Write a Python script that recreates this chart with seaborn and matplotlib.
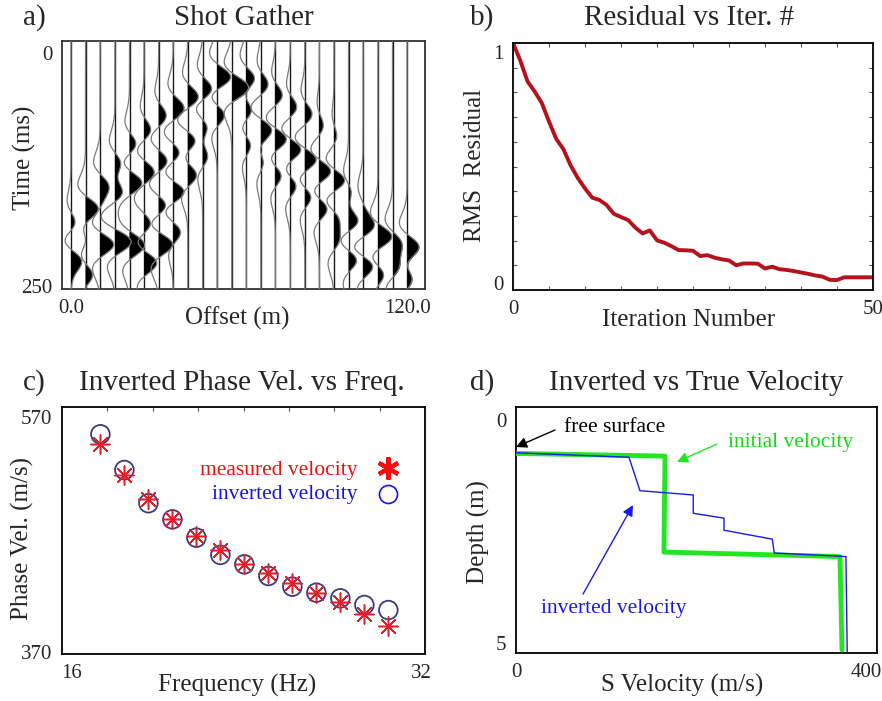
import numpy as np
import pandas as pd
import matplotlib
matplotlib.use("Agg")
import matplotlib.pyplot as plt
import seaborn as sns

sns.set_style("white")
plt.rcParams["font.family"] = ["Liberation Serif", "DejaVu Serif"]

W, H = 882, 701

# ---------------- a) shot gather: arrival picks per event ----------------
trace_offsets = [0.0, 5.2, 10.4, 15.7, 20.9, 26.1, 31.3, 36.5, 41.7, 47.0, 52.2, 57.4,
                 62.6, 67.8, 73.0, 78.3, 83.5, 88.7, 93.9, 99.1, 104.3, 109.6, 114.8, 120.0]

left1_traces = [10, 9, 8, 7, 6, 5, 4, 3, 2, 1, 0]
left1_times = [27, 40, 48, 60, 68, 84, 100, 120, 143, 168, 185]
left1_amps = [1.0, 0.7, 0.7, 0.7, 0.5, 0.5, 0.6, 0.7, 0.8, 1.0, 0.5]

left2_traces = [10, 9, 8, 7, 6, 5, 4, 3, 2, 1, 0]
left2_times = [64, 79, 95, 108, 116, 127, 138, 149, 168, 200, 222]
left2_amps = [0.7, 0.7, 0.8, 0.6, 0.6, 0.7, 0.9, 0.8, 0.6, 0.6, 1.0]

left3_traces = [9, 8, 7, 6, 5, 4, 3, 2]
left3_times = [109, 129, 149, 165, 185, 206, 202, 204]
left3_amps = [0.6, 0.8, 0.9, 0.7, 0.6, 0.9, 1.0, 1.0]

left4_traces = [7, 6, 5, 1, 0]
left4_times = [190, 204, 224, 236, 248]
left4_amps = [0.6, 1.0, 0.9, 0.6, 0.5]

right0_traces = [12, 13, 14, 15, 16, 17, 18]
right0_times = [29, 35, 47, 60, 67, 80, 92]
right0_amps = [0.8, 0.5, 0.5, 0.5, 0.5, 0.3, 0.25]

right1_traces = [11, 12, 13, 14, 15, 16, 17, 18, 19, 20]
right1_times = [37, 61, 83, 93, 104, 115, 128, 138, 152, 165]
right1_amps = [1.0, 0.8, 0.9, 0.9, 0.9, 0.9, 0.9, 0.9, 0.6, 0.5]

right2_traces = [12, 13, 14, 15, 16, 17, 18, 19, 20, 21, 22, 23]
right2_times = [96, 114, 129, 140, 152, 165, 175, 181, 188, 198, 204, 209]
right2_amps = [0.5, 0.5, 0.6, 0.6, 0.6, 0.7, 0.8, 1.0, 1.0, 1.0, 0.9, 1.0]

right3_traces = [18, 19, 20, 21, 22, 23]
right3_times = [200, 220, 227, 235, 229, 240]
right3_amps = [0.7, 0.7, 0.8, 0.6, 0.8, 0.7]

events = [
    (left1_traces, left1_times, left1_amps),
    (left2_traces, left2_times, left2_amps),
    (left3_traces, left3_times, left3_amps),
    (left4_traces, left4_times, left4_amps),
    (right0_traces, right0_times, right0_amps),
    (right1_traces, right1_times, right1_amps),
    (right2_traces, right2_times, right2_amps),
    (right3_traces, right3_times, right3_amps),
]

# ---------------- b) residual curve ----------------
iterations = list(range(51))
rms_residual = [1.04, 0.965, 0.875, 0.83, 0.78, 0.70, 0.625, 0.58, 0.51, 0.455,
                0.41, 0.37, 0.36, 0.338, 0.30, 0.286, 0.273, 0.24, 0.215, 0.228,
                0.185, 0.175, 0.16, 0.143, 0.142, 0.14, 0.117, 0.121, 0.11, 0.103,
                0.098, 0.077, 0.085, 0.085, 0.084, 0.063, 0.071, 0.06, 0.057, 0.052,
                0.046, 0.04, 0.033, 0.028, 0.014, 0.013, 0.025, 0.025, 0.025, 0.025,
                0.025]

# ---------------- c) dispersion curve ----------------
frequency = [17.3, 18.4, 19.5, 20.6, 21.7, 22.8, 23.9, 25.0, 26.1, 27.2, 28.3, 29.4, 30.5]
measured_velocity = [547.0, 520.6, 500.0, 483.2, 468.7, 456.8, 444.6, 437.0, 428.5,
                     420.5, 412.3, 402.3, 392.1]
inverted_velocity = [555.3, 524.9, 496.6, 482.9, 467.3, 452.6, 444.6, 434.7, 425.6,
                     420.5, 415.7, 410.0, 405.7]

# ---------------- d) velocity profiles ----------------
initial_vel = [0, 170.3, 169.1, 370.3, 372.6]
initial_depth = [0.75, 0.81, 2.96, 3.06, 5.15]
inverted_vel = [0, 129.1, 141.7, 202.6, 202.6, 237.7, 237.7, 292.9, 295.2, 377.1, 378.6]
inverted_depth = [0.735, 0.836, 1.585, 1.68, 2.09, 2.20, 2.47, 2.67, 2.98, 3.06, 5.25]

TITLE_FS = 21
LABEL_FS = 18
TICK_FS = 15
NOTE_FS = 15.5


def fig_axes(fig, left, top, right, bottom):
    return fig.add_axes([left / W, 1 - bottom / H, (right - left) / W, (bottom - top) / H])


def ftext(fig, x, y, s, **kw):
    return fig.text(x / W, 1 - y / H, s, **kw)


def frame(ax, color="black"):
    for sp in ax.spines.values():
        sp.set_visible(True)
        sp.set_color(color)
        sp.set_linewidth(1.3)


def style_ticks(ax):
    ax.tick_params(axis="both", which="major", length=0, labelsize=TICK_FS, pad=7)


def frac_minor(ax, n_x, n_y, sides):
    x0, x1 = ax.get_xlim()
    y0, y1 = ax.get_ylim()
    if n_x:
        ax.set_xticks([x0 + (x1 - x0) * k / n_x for k in range(1, n_x)], minor=True)
    if n_y:
        ax.set_yticks([y0 + (y1 - y0) * k / n_y for k in range(1, n_y)], minor=True)
    ax.tick_params(which="minor", direction="in", length=3, width=0.8, color="#555555",
                   **sides)


fig = plt.figure(figsize=(W / 100, H / 100), dpi=100)

# ================= a) Shot Gather =================
ax_a = fig_axes(fig, 62, 41, 425, 289)
t = np.arange(-13.0, 254.0, 0.5)
f0 = 14.0  # Hz


def ricker(tau_ms):
    a = (np.pi * f0 * tau_ms / 1000.0) ** 2
    return (1 - 2 * a) * np.exp(-a)


gain = 6.0
for i, off in enumerate(trace_offsets):
    w = np.zeros_like(t)
    for trs, tms, amps in events:
        for tr, tm, am in zip(trs, tms, amps):
            if tr == i:
                w += am * ricker(t - tm)
    xw = off + gain * w
    ax_a.plot([off, off], [t[0], t[-1]], color="#1a1a1a", lw=1.0, zorder=2)
    ax_a.fill_betweenx(t, off, xw, where=w > 0, interpolate=True, color="black",
                       lw=0, zorder=3)
    ax_a.plot(xw, t, color="#7a7a7a", lw=0.9, zorder=4)

ax_a.set_xlim(-3.2, 126.4)
ax_a.set_ylim(253, -13)
ax_a.set_xticks([0, 120], ["0.0", "120.0"])
ax_a.set_yticks([0, 250], ["0", "250"])
frame(ax_a, "#333333")
style_ticks(ax_a)

ftext(fig, 34, 18, "a)", fontsize=TITLE_FS, ha="center", va="center")
ftext(fig, 244, 18, "Shot Gather", fontsize=TITLE_FS, ha="center", va="center")
ftext(fig, 24, 158, "Time (ms)", fontsize=LABEL_FS, rotation=90, ha="center", va="center")
ftext(fig, 237, 318, "Offset (m)", fontsize=LABEL_FS, ha="center", va="center")

# ================= b) Residual vs Iteration =================
ax_b = fig_axes(fig, 513, 43, 873, 290)
sns.lineplot(x=iterations, y=rms_residual, ax=ax_b, color="#b5121d", lw=2.8)
ax_b.set_xlim(0, 50)
ax_b.set_ylim(-0.03, 1.04)
ax_b.set_xticks([0, 50], ["0", "50"])
ax_b.set_yticks([0, 1], ["0", "1"])
frame(ax_b)
style_ticks(ax_b)
frac_minor(ax_b, 10, 10, dict(top=True, bottom=True, left=True, right=True))

ftext(fig, 482, 18, "b)", fontsize=TITLE_FS, ha="center", va="center")
ftext(fig, 689, 18, "Residual vs Iter. #", fontsize=TITLE_FS, ha="center", va="center")
ftext(fig, 475, 165, "RMS  Residual", fontsize=LABEL_FS, rotation=90, ha="center", va="center")
ftext(fig, 689, 320, "Iteration Number", fontsize=LABEL_FS, ha="center", va="center")

# ================= c) Phase velocity vs frequency =================
ax_c = fig_axes(fig, 62, 407, 425, 654)
sns.scatterplot(x=frequency, y=inverted_velocity, ax=ax_c, marker="o", s=180,
                facecolors="none", edgecolor="#3c3c78", linewidth=1.3, zorder=3)
sns.scatterplot(x=frequency, y=measured_velocity, ax=ax_c, marker=(8, 2, 0), s=190,
                color="#e0202a", linewidth=1.1, zorder=4)
ax_c.set_xlim(15.54, 32.18)
ax_c.set_ylim(368.3, 578.5)
ax_c.set_xticks([16, 32], ["16", "32"])
ax_c.set_yticks([370, 570], ["370", "570"])
frame(ax_c)
style_ticks(ax_c)
frac_minor(ax_c, 8, 0, dict(top=True, bottom=False, left=False, right=False))

ftext(fig, 357, 470, "measured velocity", fontsize=NOTE_FS, color="#f01010",
      ha="right", va="center")
ftext(fig, 357, 494, "inverted velocity", fontsize=NOTE_FS, color="#1515e0",
      ha="right", va="center")
ax_c.plot([(388 - 62) / 363], [1 - (468 - 407) / 247], transform=ax_c.transAxes,
          marker=(6, 2, 0), ms=16, mew=3.0, color="#f01010", ls="none")
ax_c.plot([(388 - 62) / 363], [1 - (494 - 407) / 247], transform=ax_c.transAxes,
          marker="o", ms=13, mew=1.2, mfc="none", color="#1515e0", ls="none")

ftext(fig, 34, 383, "c)", fontsize=TITLE_FS, ha="center", va="center")
ftext(fig, 242, 383, "Inverted Phase Vel. vs Freq.", fontsize=TITLE_FS, ha="center", va="center")
ftext(fig, 22, 538, "Phase Vel. (m/s)", fontsize=LABEL_FS, rotation=90, ha="center", va="center")
ftext(fig, 237, 685, "Frequency (Hz)", fontsize=LABEL_FS, ha="center", va="center")

# ================= d) Velocity profiles =================
ax_d = fig_axes(fig, 516, 407, 877, 653)
prof_init = pd.DataFrame({"vel": initial_vel, "depth": initial_depth})
prof_inv = pd.DataFrame({"vel": inverted_vel, "depth": inverted_depth})
sns.lineplot(data=prof_init, x="vel", y="depth", sort=False, estimator=None,
             ax=ax_d, color="#22e622", lw=3.5, zorder=3)
sns.lineplot(data=prof_inv, x="vel", y="depth", sort=False, estimator=None,
             ax=ax_d, color="#1a1ae6", lw=1.0, zorder=4)
ax_d.set_xlim(0, 412.6)
ax_d.set_ylim(5.22, -0.29)
ax_d.set_xticks([0, 400], ["0", "400"])
ax_d.set_yticks([0, 5], ["0", "5"])
ax_d.set_xlabel("")
ax_d.set_ylabel("")
frame(ax_d)
style_ticks(ax_d)

arrow = dict(arrowstyle="-|>", mutation_scale=16, lw=1.0, shrinkA=0, shrinkB=0)
ax_d.annotate("", xy=(0, 0.606), xytext=(44.6, 0.225),
              arrowprops=dict(arrow, color="black"), annotation_clip=False)
ax_d.text(54.9, 0.18, "free surface", fontsize=NOTE_FS, color="black", va="center", ha="left")
ax_d.annotate("", xy=(184, 0.94), xytext=(229.7, 0.54),
              arrowprops=dict(arrow, color="#22e622"))
ax_d.text(242.3, 0.516, "initial velocity", fontsize=NOTE_FS, color="#10dd10",
          va="center", ha="left")
ax_d.annotate("", xy=(133.7, 1.905), xytext=(76.6, 3.90),
              arrowprops=dict(arrow, color="#1a1ae6"))
ax_d.text(28.6, 4.23, "inverted velocity", fontsize=NOTE_FS, color="#1a1ae6",
          va="center", ha="left")

ftext(fig, 482, 383, "d)", fontsize=TITLE_FS, ha="center", va="center")
ftext(fig, 696, 383, "Inverted vs True Velocity", fontsize=TITLE_FS, ha="center", va="center")
ftext(fig, 478, 532, "Depth (m)", fontsize=LABEL_FS, rotation=90, ha="center", va="center")
ftext(fig, 682, 685, "S Velocity (m/s)", fontsize=LABEL_FS, ha="center", va="center")

fig.savefig("out.png", dpi=100)
